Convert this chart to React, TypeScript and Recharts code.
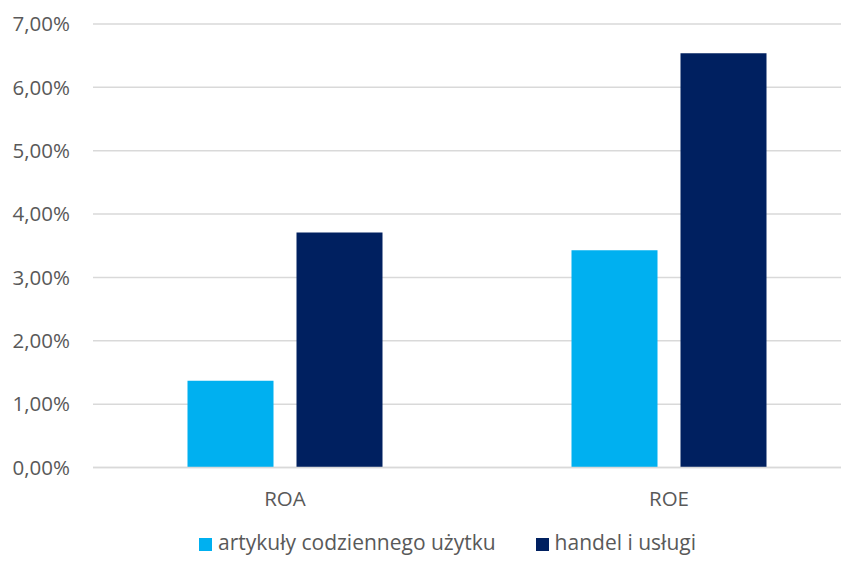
import { BarChart, Bar, XAxis, YAxis, CartesianGrid, Legend } from 'recharts';

const categories = ['ROA', 'ROE'];
const artykulyValues = [1.37, 3.43];
const handelValues = [3.71, 6.54];
const yTicks = [0, 1, 2, 3, 4, 5, 6, 7];

const seriesNames = ['artykuły codziennego użytku', 'handel i usługi'];
const colors = ['#00B0F0', '#002060'];

const data = categories.map((name, i) => ({
  name,
  artykuly: artykulyValues[i],
  handel: handelValues[i],
}));

const fmt = (v: number) => `${v.toFixed(2).replace('.', ',')}%`;

const font = "'Open Sans', sans-serif";

function LegendContent() {
  return (
    <div
      style={{
        height: 55.5,
        boxSizing: 'border-box',
        paddingTop: 24.5,
        paddingLeft: 199,
        display: 'flex',
        justifyContent: 'flex-start',
        alignItems: 'flex-start',
        fontFamily: font,
        fontSize: 21,
        lineHeight: 1,
        color: '#595959',
      }}
    >
      {seriesNames.map((n, i) => (
        <div key={n} style={{ display: 'flex', alignItems: 'flex-start', marginRight: i === 0 ? 40 : 0 }}>
          <span style={{ width: 13, height: 13, background: colors[i], display: 'inline-block', marginRight: 6, marginTop: 5.5 }} />
          <span>{n}</span>
        </div>
      ))}
    </div>
  );
}

export default function App() {
  return (
    <div style={{ margin: -8, width: 849, height: 563, overflow: 'hidden', position: 'relative', background: '#fff' }}>
      <BarChart
        width={870}
        height={563}
        data={data}
        margin={{ top: 24, right: 9, left: 0, bottom: 0 }}
        barCategoryGap={94.5}
        barGap={23}
      >
        <CartesianGrid vertical={false} stroke="#D9D9D9" strokeWidth={1.5} />
        <XAxis
          dataKey="name"
          axisLine={{ stroke: '#D9D9D9', strokeWidth: 1.5 }}
          tickLine={false}
          tickSize={0}
          tickMargin={24}
          height={40}
          tick={{ fill: '#595959', fontSize: 20.5, fontFamily: font }}
        />
        <YAxis
          domain={[0, 7]}
          ticks={yTicks}
          tickFormatter={fmt}
          axisLine={false}
          tickLine={false}
          tickSize={0}
          tickMargin={23}
          width={93}
          tick={{ fill: '#595959', fontSize: 20.5, fontFamily: font }}
        />
        <Legend verticalAlign="bottom" content={<LegendContent />} />
        <Bar dataKey="artykuly" name={seriesNames[0]} fill={colors[0]} isAnimationActive={false} />
        <Bar dataKey="handel" name={seriesNames[1]} fill={colors[1]} isAnimationActive={false} />
      </BarChart>
    </div>
  );
}
